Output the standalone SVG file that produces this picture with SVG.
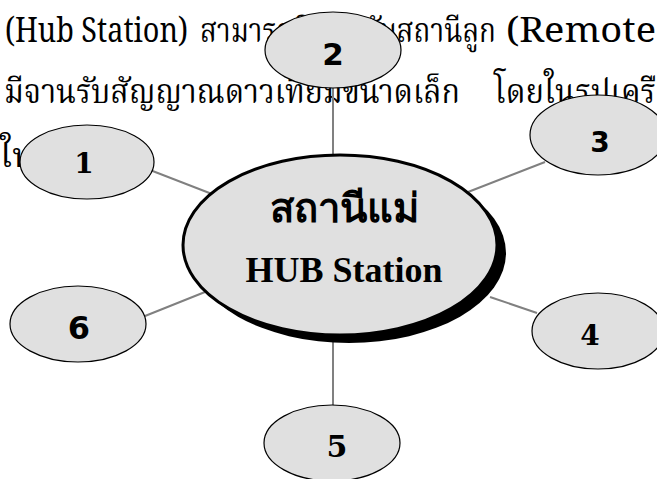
<svg xmlns="http://www.w3.org/2000/svg" width="657" height="479" viewBox="0 0 657 479">
<style>
.bg{font-family:"Norasi","Noto Serif Thai","Liberation Serif","Noto Sans",serif;font-size:34px;fill:#000}
.conn line{stroke:#808080;stroke-width:2}
.node{fill:#e0e0e0;stroke:#000;stroke-width:1.2}
.sans{font-family:"DejaVu Sans","Liberation Sans",sans-serif;font-weight:bold;text-anchor:middle;fill:#000}
.serif{font-family:"DejaVu Serif","Liberation Serif",serif;font-weight:bold;text-anchor:middle;fill:#000}
.hubtxt{font-family:"Liberation Serif","DejaVu Serif",serif;font-weight:bold;text-anchor:middle;fill:#000}
</style>
<rect width="657" height="479" fill="#fff"/>
<g id="background-text">
<text class="bg" x="5" y="42" textLength="183" lengthAdjust="spacingAndGlyphs">(Hub Station)</text>
<text class="bg" x="200" y="42" textLength="296" lengthAdjust="spacingAndGlyphs">สามารถติดต่อกับสถานีลูก</text>
<text class="bg" x="506" y="42" textLength="150" lengthAdjust="spacingAndGlyphs">(Remote</text>
<text class="bg" x="4" y="103" textLength="456" lengthAdjust="spacingAndGlyphs">มีจานรับสัญญาณดาวเทียมขนาดเล็ก</text>
<text class="bg" x="494" y="103" textLength="162" lengthAdjust="spacingAndGlyphs">โดยในรูปเครื</text>
<text class="bg" x="0" y="167">ใน</text>
</g>
<g id="connectors" class="conn">
<line x1="333" y1="85" x2="333" y2="156"/>
<line x1="150" y1="170" x2="212" y2="194"/>
<line x1="545" y1="162" x2="468" y2="192"/>
<line x1="537" y1="313" x2="490" y2="297"/>
<line x1="333" y1="342" x2="333" y2="406"/>
<line x1="145" y1="316" x2="205" y2="292"/>
</g>
<g id="hub">
<ellipse cx="349" cy="253" rx="157" ry="90" fill="#000"/>
<ellipse cx="340" cy="245" rx="157" ry="90" fill="#e0e0e0" stroke="#000" stroke-width="3"/>
<text x="344" y="222" font-family="'Noto Sans','DejaVu Sans',sans-serif" font-weight="bold" font-size="40" text-anchor="middle">สถานีแม่</text>
<text class="hubtxt" x="344" y="282" font-size="36">HUB Station</text>
</g>
<g id="node-1">
<ellipse class="node" cx="87" cy="162" rx="67" ry="37"/>
<text class="serif" x="84" y="173" font-size="28">1</text>
</g>
<g id="node-2">
<ellipse class="node" cx="333" cy="50" rx="68" ry="38"/>
<text class="sans" x="333" y="65" font-size="31">2</text>
</g>
<g id="node-3">
<ellipse class="node" cx="598" cy="135" rx="68" ry="40"/>
<text class="sans" x="600" y="152" font-size="28">3</text>
</g>
<g id="node-4">
<ellipse class="node" cx="598" cy="331" rx="66" ry="38"/>
<text class="serif" x="590" y="345" font-size="28">4</text>
</g>
<g id="node-5">
<ellipse class="node" cx="332" cy="443" rx="68" ry="38"/>
<text class="serif" x="337" y="457" font-size="30">5</text>
</g>
<g id="node-6">
<ellipse class="node" cx="78" cy="324" rx="68" ry="38" fill="#fff"/>
<text class="sans" x="79" y="339" font-size="32">6</text>
</g>
</svg>
